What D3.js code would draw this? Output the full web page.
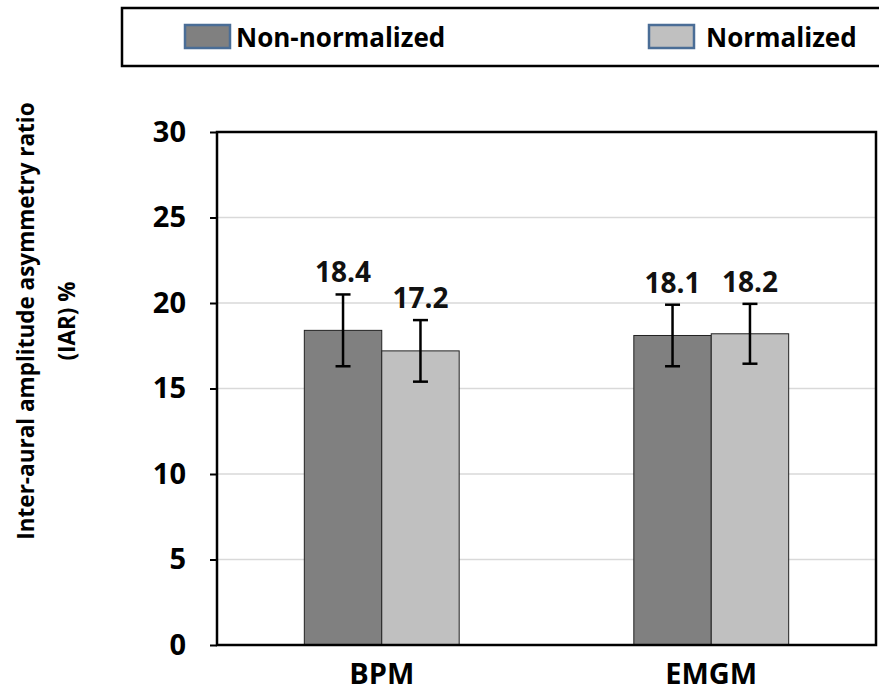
<!DOCTYPE html>
<html><head><meta charset="utf-8">
<script src="https://cdn.jsdelivr.net/npm/d3@7"></script>
<style>body{margin:0;background:#fff;} svg{display:block;font-family:"Open Sans",Arial,sans-serif;font-weight:bold;}</style>
</head><body><svg id="c" width="879" height="693"></svg>
<script>
const categories = ["BPM", "EMGM"];
const seriesNames = ["Non-normalized", "Normalized"];
const seriesColors = ["#808080", "#c0c0c0"];
const nonNormalized = [18.4, 18.1];
const normalized = [17.2, 18.2];
const nonNormalizedErr = [2.1, 1.8];
const normalizedErr = [1.8, 1.75];
const yTicks = [0, 5, 10, 15, 20, 25, 30];

const svg = d3.select("#c");
const m = {l: 217, r: 876, t: 132, b: 645};
const x0 = d3.scaleBand().domain(categories).range([m.l, m.r]).paddingInner(0.53).paddingOuter(0.265);
const x1 = d3.scaleBand().domain(seriesNames).range([0, x0.bandwidth()]);
const y = d3.scaleLinear().domain([0, 30]).range([m.b, m.t]);

// gridlines
svg.append("g").selectAll("line").data(yTicks.filter(t => t > 0 && t < 30)).join("line")
  .attr("x1", m.l).attr("x2", m.r).attr("y1", d => y(d)).attr("y2", d => y(d))
  .attr("stroke", "#d9d9d9").attr("stroke-width", 1.5);

const data = [];
categories.forEach((c, i) => {
  data.push({c, s: seriesNames[0], v: nonNormalized[i], e: nonNormalizedErr[i], col: seriesColors[0]});
  data.push({c, s: seriesNames[1], v: normalized[i], e: normalizedErr[i], col: seriesColors[1]});
});

svg.append("g").selectAll("rect").data(data).join("rect")
  .attr("x", d => x0(d.c) + x1(d.s)).attr("width", x1.bandwidth())
  .attr("y", d => y(d.v)).attr("height", d => y(0) - y(d.v))
  .attr("fill", d => d.col).attr("stroke", "#222").attr("stroke-width", 1);

// error bars
const eg = svg.append("g").attr("stroke", "#000").attr("stroke-width", 2.5);
data.forEach(d => {
  const cx = x0(d.c) + x1(d.s) + x1.bandwidth() / 2;
  eg.append("line").attr("x1", cx).attr("x2", cx).attr("y1", y(d.v + d.e)).attr("y2", y(d.v - d.e));
  eg.append("line").attr("x1", cx - 7.5).attr("x2", cx + 7.5).attr("y1", y(d.v + d.e)).attr("y2", y(d.v + d.e));
  eg.append("line").attr("x1", cx - 7.5).attr("x2", cx + 7.5).attr("y1", y(d.v - d.e)).attr("y2", y(d.v - d.e));
});

// value labels
svg.append("g").selectAll("text").data(data).join("text")
  .attr("x", d => x0(d.c) + x1(d.s) + x1.bandwidth() / 2)
  .attr("y", d => y(d.v + d.e) - 12)
  .attr("text-anchor", "middle").attr("font-size", 28).attr("fill", "#111")
  .text(d => d.v.toFixed(1));

// axes
const ya = svg.append("g").attr("transform", `translate(${m.l},0)`)
  .call(d3.axisLeft(y).tickValues(yTicks).tickSize(7).tickPadding(24));
ya.select(".domain").remove();
ya.selectAll("line").attr("stroke", "#000").attr("stroke-width", 2);
ya.selectAll("text").attr("font-size", 29).attr("font-family", "Open Sans").attr("font-weight", "bold").attr("fill", "#000");

const xa = svg.append("g").attr("transform", `translate(0,${m.b})`)
  .call(d3.axisBottom(x0).tickSize(0).tickPadding(0));
xa.select(".domain").remove();
xa.selectAll("text").attr("font-size", 29).attr("font-family", "Open Sans").attr("font-weight", "bold").attr("fill", "#000")
  .attr("dy", null).attr("y", 39);

// plot frame
svg.append("rect").attr("x", m.l).attr("y", m.t).attr("width", m.r - m.l).attr("height", m.b - m.t)
  .attr("fill", "none").attr("stroke", "#000").attr("stroke-width", 2.5);

// y title
const yt = svg.append("text").attr("transform", "translate(34,321) rotate(-90)")
  .attr("text-anchor", "middle").attr("font-size", 22.5).attr("fill", "#000");
yt.append("tspan").attr("x", 0).attr("dy", 0).text("Inter-aural amplitude asymmetry ratio");
yt.append("tspan").attr("x", 0).attr("dy", 41).text("(IAR) %");

// legend
svg.append("rect").attr("x", 122).attr("y", 8).attr("width", 770).attr("height", 58)
  .attr("fill", "#fff").attr("stroke", "#000").attr("stroke-width", 2.5);
const lx = [185, 649];
seriesNames.forEach((s, i) => {
  svg.append("rect").attr("x", lx[i]).attr("y", 25).attr("width", 45).attr("height", 23)
    .attr("fill", seriesColors[i]).attr("stroke", "#4a6d96").attr("stroke-width", 2.5);
  svg.append("text").attr("x", lx[i] + 51 + (i ? 6 : 0)).attr("y", 47).attr("font-size", 26).attr("fill", "#000").text(s);
});
</script></body></html>
